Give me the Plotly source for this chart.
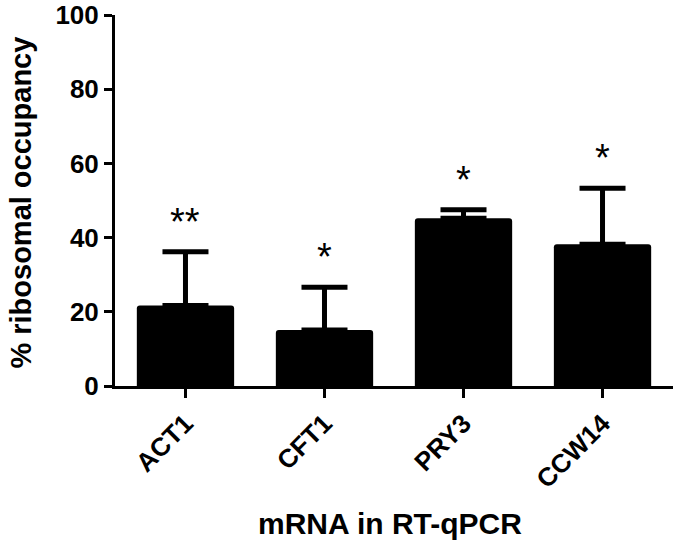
import plotly.graph_objects as go

categories = ["ACT1", "CFT1", "PRY3", "CCW14"]
means = [21.7, 15.1, 45.2, 38.2]
errors_up = [14.5, 11.5, 2.3, 15.1]
stars = ["**", "*", "*", "*"]
y_ticks = [0, 20, 40, 60, 80, 100]

FONT = "Liberation Sans, Arial, Helvetica, sans-serif"

fig = go.Figure()
fig.add_trace(go.Bar(
    x=categories,
    y=means,
    width=0.70,
    marker=dict(color="black", line=dict(width=0), cornerradius=3),
    error_y=dict(type="data", symmetric=False, array=errors_up,
                 arrayminus=[0] * len(means), color="black",
                 thickness=5, width=23),
    showlegend=False,
))

for c, m, e, s in zip(categories, means, errors_up, stars):
    fig.add_annotation(x=c, y=m + e, text=s, showarrow=False,
                       xref="x", yref="y", yanchor="middle", yshift=30,
                       font=dict(family=FONT, size=38, color="black"))

fig.add_annotation(text="<b>% ribosomal occupancy</b>", textangle=-90,
                   xref="paper", yref="paper", x=-0.168, y=0.495,
                   xanchor="center", yanchor="middle", showarrow=False,
                   borderpad=0,
                   font=dict(family=FONT, size=29, color="black"))
fig.add_annotation(text="<b>mRNA in RT-qPCR</b>",
                   xref="paper", yref="paper", x=0.493, y=-0.370,
                   xanchor="center", yanchor="middle", showarrow=False,
                   font=dict(family=FONT, size=30, color="black"))

fig.update_layout(
    template="none",
    width=680, height=544,
    margin=dict(l=115, r=7, t=15, b=158, autoexpand=False),
    plot_bgcolor="white", paper_bgcolor="white",
    font=dict(family=FONT, color="black"),
)
fig.update_xaxes(
    range=[-0.507, 3.507], showline=True, linewidth=3, linecolor="black",
    ticks="outside", ticklen=9, tickwidth=3, tickcolor="black",
    tickangle=-45, showgrid=False, zeroline=False, automargin=False,
    ticklabeloverflow="allow",
    tickfont=dict(family=FONT, size=26, color="black", weight="bold"),
)
fig.update_yaxes(
    range=[0, 100], tickvals=y_ticks, showline=True, linewidth=3,
    linecolor="black", ticks="outside", ticklen=8, tickwidth=3,
    tickcolor="black", showgrid=False, zeroline=False, automargin=False,
    ticklabelstandoff=0, ticklabeloverflow="allow",
    tickfont=dict(family=FONT, size=26, color="black", weight="bold"),
)

fig.write_html("out.html", config={"displayModeBar": False},
               post_script="document.body.style.margin='0';")
